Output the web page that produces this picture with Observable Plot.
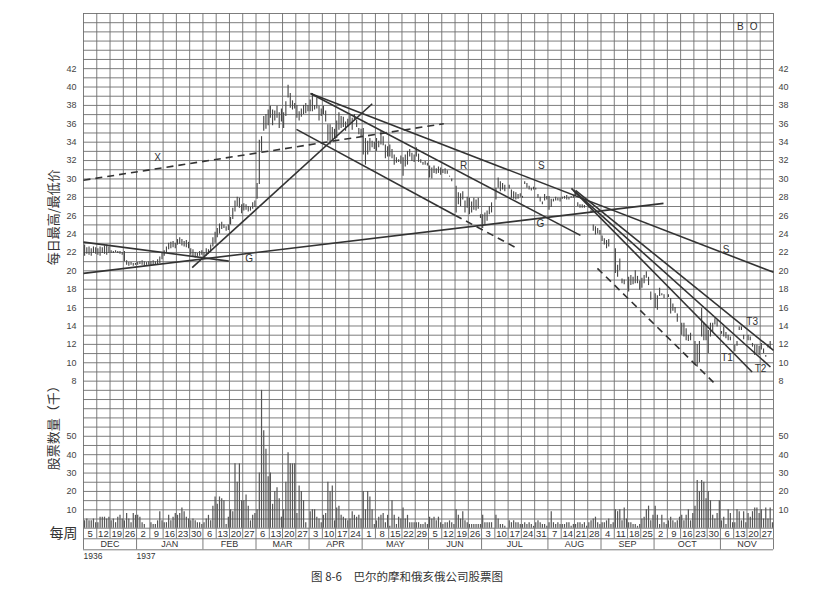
<!DOCTYPE html>
<html><head><meta charset="utf-8">
<script src="https://cdn.jsdelivr.net/npm/d3@7"></script>
<script src="https://cdn.jsdelivr.net/npm/@observablehq/plot@0.6"></script>
<style>
body{margin:0;background:#fff;width:814px;height:591px;overflow:hidden;}
#cap{font-family:"Noto Sans CJK SC",sans-serif;font-size:11.5px;color:#333;text-align:center;width:814px;line-height:20px;}
</style></head><body>
<div id="chart"></div>
<div id="cap">图 8-6　巴尔的摩和俄亥俄公司股票图</div>
<script>
const weekLabels = [5,12,19,26,2,9,16,23,30,6,13,20,27,6,13,20,27,3,10,17,24,1,8,15,22,29,5,12,19,26,3,10,17,24,31,7,14,21,28,4,11,18,25,2,9,16,23,30,6,13,20,27];
const months = ["DEC","JAN","FEB","MAR","APR","MAY","JUN","JUL","AUG","SEP","OCT","NOV"];
const monthWeeks = [4,5,4,4,4,5,4,5,4,4,5,4];
const years = [{label:"1936", week:0},{label:"1937", week:4}];
const priceTicks = [8,10,12,14,16,18,20,22,24,26,28,30,32,34,36,38,40,42];
const volumeTicks = [10,20,30,40,50];

// daily highs / lows, one row per week
const hi = [
[22.8,22.5,22.6,22.4,22.6,22.5],[22.4,22.6,22.5,22.7,22.8,22.6],[22.2,22.1,22.2,22.1,22.1,22.0],[22.1,21.1,20.9,20.9,20.8,20.8],
[20.9,21.0,21.1,21.0,20.9,21.0],[21.0,21.1,21.0,21.2,21.5,22.0],[22.2,22.6,23.0,23.1,23.2,23.0],[23.4,23.6,23.4,23.2,23.3,23.1],
[22.4,22.3,22.0,21.9,22.1,22.2],[22.0,22.4,22.3,22.8,23.6,24.2],[24.6,25.1,25.3,25.0,24.8,25.0],[25.8,26.8,27.6,28.0,27.9,27.2],
[27.3,27.2,27.0,26.9,27.4,27.6],[29.5,34.2,34.6,36.8,37.0,37.5],[37.9,37.5,37.4,37.9,37.2,37.6],[37.2,38.4,40.2,39.3,38.5,38.2],
[38.0,37.3,37.6,38.0,38.2,38.0],[38.6,39.3,38.0,38.8,37.9,37.6],[37.9,37.4,35.9,35.9,35.6,35.4],[36.3,37.2,36.8,36.7,36.2,36.5],
[36.9,36.6,37.0,36.4,35.5,35.4],[35.5,34.4,34.1,34.4,34.1,34.0],[34.4,34.1,35.2,34.6,33.7,33.5],[33.7,33.2,32.6,32.3,32.1,32.5],
[32.3,32.6,33.0,33.2,32.8,32.6],[33.4,32.7,32.1,31.8,31.9,31.7],[31.4,31.2,31.4,31.1,31.3,31.2],[31.0,31.1,30.9,30.3,30.0],
[29.2,28.5,28.4,28.6,27.6,28.0],[27.9,27.5,27.9,27.7,27.9,26.1],[26.1,26.3,26.5,27.0,27.4],[29.0,30.1,29.7,29.5,29.3],
[29.3,28.8,28.6,28.5,28.3,28.4],[28.1,29.7,29.5,29.2,29.0,29.1],[29.0,28.3,28.0,27.5,28.3,28.1],[28.1,27.8,27.8,28.0,27.9,27.9],
[28.0,28.1,28.2,28.0,28.1,28.2],[28.5,27.4,27.2,27.2,27.1],[27.2,26.6,25.0,24.8,24.6,24.4],[23.8,23.5,23.3,23.4],
[22.4,20.6,21.3,19.1,19.0],[19.3,19.5,19.3,20.0,19.4,18.9],[19.2,19.5,19.9,19.3,17.7],[17.5,17.3,18.1,17.5,17.4],
[17.4,17.0,16.4,16.0,15.3],[14.3,14.3,13.7,13.0,13.2],[12.3,12.0,12.3,15.9,14.3,14.1],[13.5,14.3,14.3,14.8,14.6],
[13.4,13.9,13.3,13.0,12.8],[11.9,12.3,13.9,13.9,13.0],[13.0,12.8,12.1,11.9,11.9,11.8],[12.1,11.5,10.8,12.0,12.3]
];
const lo = [
[21.6,21.8,21.7,21.6,21.9,21.8],[21.7,21.6,21.9,21.8,21.7,21.9],[21.9,21.9,22.0,21.9,21.8,21.7],[21.0,20.6,20.5,20.6,20.5,20.6],
[20.6,20.7,20.6,20.5,20.6,20.6],[20.5,20.6,20.7,20.6,20.8,21.2],[21.6,21.9,22.3,22.4,22.5,22.4],[22.8,22.9,22.7,22.6,22.5,22.4],
[21.7,21.5,21.4,21.5,21.6,21.7],[21.5,21.6,21.8,22.0,22.6,23.0],[23.6,24.0,24.5,24.6,24.3,24.4],[25.0,25.6,26.4,27.0,26.8,26.2],
[26.5,26.6,26.4,26.5,26.7,26.9],[27.8,29.4,33.0,35.2,35.4,35.8],[36.6,35.8,36.3,36.6,35.5,36.2],[35.5,36.8,38.8,37.7,37.5,37.6],
[36.6,36.3,36.7,37.0,37.1,37.3],[37.3,37.3,37.5,37.6,36.3,36.8],[37.0,36.2,34.1,33.7,34.1,34.3],[34.4,35.3,35.5,35.6,35.2,35.6],
[35.9,35.3,36.3,35.6,34.8,34.6],[32.6,31.5,32.6,33.0,33.4,33.2],[33.0,33.4,33.7,33.6,32.2,32.4],[32.4,32.2,31.5,31.7,31.8,31.6],
[30.3,31.3,31.5,32.4,31.9,31.8],[32.4,31.8,31.7,31.5,31.5,31.4],[30.1,30.0,30.6,30.5,30.6,30.4],[30.6,30.5,30.5,30.2,29.7],
[26.3,27.2,27.0,27.7,26.3,26.8],[26.1,26.3,26.6,26.5,26.7,25.7],[24.6,25.0,25.4,26.1,26.3],[27.7,29.0,28.6,28.8,28.6],
[28.9,27.9,27.8,27.7,27.8,28.0],[27.9,29.4,29.0,28.8,28.7,28.8],[28.8,27.9,27.5,27.2,27.6,27.7],[26.6,26.9,27.5,27.6,27.6,27.5],
[27.8,27.8,27.7,27.7,27.9,27.9],[28.1,27.0,26.8,26.8,26.8],[26.8,26.3,24.3,23.9,24.0,23.9],[23.2,22.8,22.4,22.6],
[19.7,19.3,20.0,18.6,18.5],[17.7,18.4,18.5,18.6,18.6,17.9],[18.1,18.6,19.2,18.4,16.8],[15.9,15.7,17.2,17.3,17.0],
[17.1,15.3,15.6,15.4,14.4],[13.0,12.8,12.4,12.3,12.4],[9.7,9.5,10.0,12.8,12.4,12.4],[11.0,12.8,13.3,14.1,13.9],
[13.1,12.8,12.6,12.4,12.4],[11.2,11.8,13.5,13.5,12.5],[12.4,12.4,11.7,10.8,11.0,10.8],[11.4,11.0,10.6,11.6,11.5]
];
// daily volume (thousands), one row per week
const vol = [
[4,5,4,4,5,3],[3,6,6,6,5,6],[4,5,3,6,7,5],[4,8,5,3,8,7],[7,6,3,2],[3,2,2,4,9,4],[3,3,7,4,6,8],[7,8,11,9,6,5],
[4,5,4,3,3,2],[3,5,7,4,12,17],[13,17,16,15,2,6],[10,9,35,25,35,15],[15,18,12,4,7,8],[10,30,75,53,43,28],
[30,13,20,22,16,6],[10,25,41,35,35,35],[8,23,20,15,3],[9,10,10,6,5,3],[7,8,25,20,23,4],[11,12,7,6,5,4],
[5,9,7,6,7,5],[20,10,20,17,10,2],[4,6,7,8,3,7],[1,15,7,2,6,5],[11,5,7,3,3,3],[3,3,2,2,3,2],[6,5,6,4,6,3],
[2,3,3,4,3,2],[10,7,5,9,4,3],[2,2,2,2,2,2],[7,3,3,3,3],[7,5,2,2,1],[4,3,4,3,3,2],[2,3,2,3,2,1],[3,4,3,2,2,1],
[3,9,3,2,3,2],[2,2,3,3,1,2],[2,3,3,2,3,1],[3,4,5,6,3,2],[3,3,4,5,2,3],[10,9,10,4,11,5],[3,3,2,2,1,2],
[5,6,10,12,4,7],[12,7,2,7,3,2],[4,6,4,3,4,6],[7,4,7,10,4,8],[12,26,20,26,25,16],[20,15,7,5,8,15],[4,6,2,10,8,3],
[3,10,9,4,9,3],[8,6,9,11,11,8],[10,5,11,5,11,3]
];
// trend lines [week1, price1, week2, price2]
const solidLines = [
[0,19.73,43.71,27.34],[0,23.13,10.95,21.06],[8.19,20.35,21.76,38.18],[17.11,39.3,52,19.84],
[17.11,39.3,37.45,23.86],[16.05,35.39,28.03,26.03],[36.77,28.97,50.39,8.99],[36.93,28.75,51.77,9.54],[37.08,28.75,52,11.35]
];
const dashedLines = [[0,29.86,27.15,36.01],[28.03,26.03,32.55,22.55],[38.73,20.27,47.48,7.87]];
const lineLabels = [
{t:"X",w:5.58,p:32.34},{t:"G",w:12.49,p:21.33},{t:"G",w:34.44,p:25.13},{t:"R",w:28.64,p:31.47},
{t:"S",w:34.51,p:31.47},{t:"S",w:48.43,p:22.34},{t:"T1",w:48.5,p:10.52},{t:"T2",w:51.02,p:9.29},
{t:"T3",w:50.39,p:14.5},{t:"B",w:49.5,p:46.5},{t:"O",w:50.5,p:46.5}
];

// volume shares the grid: 10 thousand = 2 grid units, zero at grid -8
const volY = v => v / 5 - 8;
const ROW1 = -9.15, ROW2 = -10.35;

const bars = [];
hi.forEach((wk, i) => wk.forEach((h, d) => bars.push({x: i + (d + 0.5) / 6, hi: h, lo: lo[i][d]})));
const vbars = [];
vol.forEach((wk, i) => wk.forEach((v, d) => vbars.push({x: i + (d + 0.5) / 6, v})));
const monthStarts = [0];
monthWeeks.forEach(n => monthStarts.push(monthStarts[monthStarts.length - 1] + n));
const monthData = months.map((m, i) => ({m, x: monthStarts[i] + monthWeeks[i] / 2}));
const toLink = a => ({x1: a[0], y1: a[1], x2: a[2], y2: a[3]});

const grid = "#6e6e6e";
const sans = "Liberation Sans, Arial, sans-serif";
const cjk = "Noto Sans CJK SC, sans-serif";

const chart = Plot.plot({
  width: 814, height: 566,
  marginLeft: 83, marginRight: 41, marginTop: 13, marginBottom: 16.7,
  x: {domain: [0, 52], axis: null},
  y: {domain: [ROW2, 48], axis: null},
  style: {fontFamily: sans, fontSize: "9px", color: "#333", background: "#fff", overflow: "visible"},
  marks: [
    Plot.ruleY(d3.range(-8, 49), {x1: 0, x2: 52, stroke: grid, strokeWidth: 0.9}),
    Plot.ruleY([ROW1, ROW2], {x1: 0, x2: 52, stroke: grid, strokeWidth: 0.9}),
    Plot.ruleX(d3.range(0, 53), {y1: ROW1, y2: 48, stroke: grid, strokeWidth: 0.9}),
    Plot.ruleX(monthStarts, {y1: ROW2, y2: ROW1, stroke: grid, strokeWidth: 0.9}),
    Plot.ruleX(bars, {x: "x", y1: "lo", y2: "hi", stroke: "#444", strokeWidth: 1.1}),
    Plot.ruleX(vbars, {x: "x", y1: -8, y2: d => volY(d.v), stroke: "#555", strokeWidth: 1.2}),
    Plot.link(solidLines.map(toLink), {x1: "x1", y1: "y1", x2: "x2", y2: "y2", stroke: "#333", strokeWidth: 1.6}),
    Plot.link(dashedLines.map(toLink), {x1: "x1", y1: "y1", x2: "x2", y2: "y2", stroke: "#333", strokeWidth: 1.6, strokeDasharray: "7,5"}),
    Plot.text(lineLabels, {x: "w", y: "p", text: "t", fontSize: 10, fill: "#333"}),
    Plot.text(priceTicks, {x: 0, y: d => d, text: d => d, textAnchor: "end", dx: -7, fill: "#444"}),
    Plot.text(priceTicks, {x: 52, y: d => d, text: d => d, textAnchor: "start", dx: 5, fill: "#444"}),
    Plot.text(volumeTicks, {x: 0, y: d => volY(d), text: d => d, textAnchor: "end", dx: -7, fill: "#444"}),
    Plot.text(volumeTicks, {x: 52, y: d => volY(d), text: d => d, textAnchor: "start", dx: 5, fill: "#444"}),
    Plot.text(weekLabels, {x: (d, i) => i + 0.5, y: (-8 + ROW1) / 2, text: d => d, fontSize: 9.5, fill: "#333"}),
    Plot.text(monthData, {x: "x", y: (ROW1 + ROW2) / 2, text: "m", fontSize: 9, fill: "#333"}),
    Plot.text(years, {x: "week", y: ROW2 - 0.7, text: "label", textAnchor: "start", fontSize: 8.5, fill: "#333"}),
    Plot.text(["每日最高/最低价"], {frameAnchor: "left", y: 20.6, dx: -30, rotate: -90, fontFamily: cjk, fontSize: 13, fill: "#333"}),
    Plot.text(["股票数量（千）"], {frameAnchor: "left", y: -1.7, dx: -30, rotate: -90, fontFamily: cjk, fontSize: 13, fill: "#333"}),
    Plot.text(["每周"], {frameAnchor: "left", y: (-8 + ROW1) / 2, dx: -6, textAnchor: "end", fontFamily: cjk, fontSize: 14, fill: "#333"})
  ]
});
document.getElementById("chart").appendChild(chart);
</script>
</body></html>
